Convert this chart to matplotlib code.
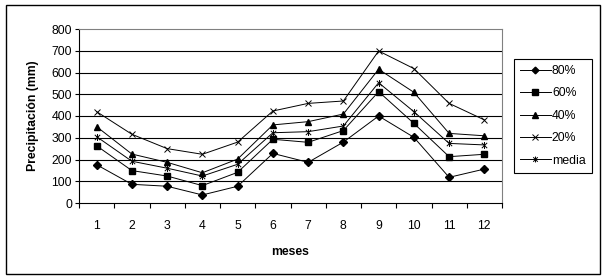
import matplotlib.pyplot as plt
from matplotlib.path import Path
from matplotlib.patches import Rectangle
import numpy as np

plt.rcParams['font.family'] = ['Liberation Sans', 'DejaVu Sans']

# monthly precipitation by exceedance probability
months = [1, 2, 3, 4, 5, 6, 7, 8, 9, 10, 11, 12]
p80 = [176, 86, 77, 37, 77, 228, 187, 280, 400, 302, 118, 156]
p60 = [263, 149, 124, 80, 141, 293, 279, 333, 512, 366, 213, 224]
p40 = [351, 225, 187, 139, 202, 359, 374, 409, 615, 509, 320, 309]
p20 = [420, 316, 250, 224, 280, 423, 458, 469, 699, 618, 458, 382]
media = [305, 192, 160, 124, 178, 323, 328, 354, 553, 420, 274, 267]
labels = ['80%', '60%', '40%', '20%', 'media']
yticks = [0, 100, 200, 300, 400, 500, 600, 700, 800]

# excel style asterisk: x plus vertical bar
ast = Path([(-1, -1), (1, 1), (-1, 1), (1, -1), (0, -1.3), (0, 1.3)],
           [Path.MOVETO, Path.LINETO, Path.MOVETO, Path.LINETO, Path.MOVETO, Path.LINETO])

styles = [
    dict(marker='D', ms=4.0),
    dict(marker='s', ms=4.6),
    dict(marker='^', ms=5.0),
    dict(marker='x', ms=4.6, mew=0.7),
    dict(marker=ast, ms=5.0, mew=0.7),
]

fs = 8.8

fig = plt.figure(figsize=(6.05, 2.8), dpi=100)
fig.patches.append(Rectangle((6 / 605, 1 - 274 / 280), 594 / 605, 269 / 280,
                             transform=fig.transFigure, fill=False, ec='black', lw=1.0))

ax = fig.add_axes([79 / 605, 1 - 203 / 280, 423 / 605, 174 / 280])
x = np.array(months)
handles = []
for data, lab, st in zip([p80, p60, p40, p20, media], labels, styles):
    h, = ax.plot(x, data, color='black', lw=0.7, mfc='black', mec='black',
                 label=lab, **st)
    handles.append(h)

ax.set_xlim(0.5, 12.5)
ax.set_ylim(0, 800)
ax.set_yticks(yticks)
for v in yticks[1:-1]:
    ax.axhline(v, color='black', lw=0.8, zorder=0)

ax.set_xticks(x)
ax.set_xticks(np.arange(0.5, 13, 1), minor=True)
ax.tick_params(axis='x', which='major', length=0, pad=12, labelsize=fs)
ax.tick_params(axis='x', which='minor', length=3.5, width=0.8, direction='out')
ax.tick_params(axis='y', length=3, width=0.8, pad=2, labelsize=fs)

for s in ['left', 'bottom']:
    ax.spines[s].set_color('black')
    ax.spines[s].set_linewidth(0.8)
for s in ['top', 'right']:
    ax.spines[s].set_color('#808080')
    ax.spines[s].set_linewidth(0.8)

ax.set_xlabel('meses', fontsize=fs, fontweight='bold', labelpad=10)
ax.set_ylabel('Precipitación (mm)', fontsize=fs, fontweight='bold', labelpad=9)

leg = fig.legend(handles=handles, loc='upper left',
                 bbox_to_anchor=(514 / 605, 1 - 59 / 280), fontsize=fs,
                 frameon=True, fancybox=False, edgecolor='black', framealpha=1,
                 handlelength=2.5, handletextpad=0.1, labelspacing=0.85,
                 borderpad=0.5, borderaxespad=0, markerscale=0.85)
leg.get_frame().set_linewidth(0.8)

fig.savefig('out.png', dpi=100)
